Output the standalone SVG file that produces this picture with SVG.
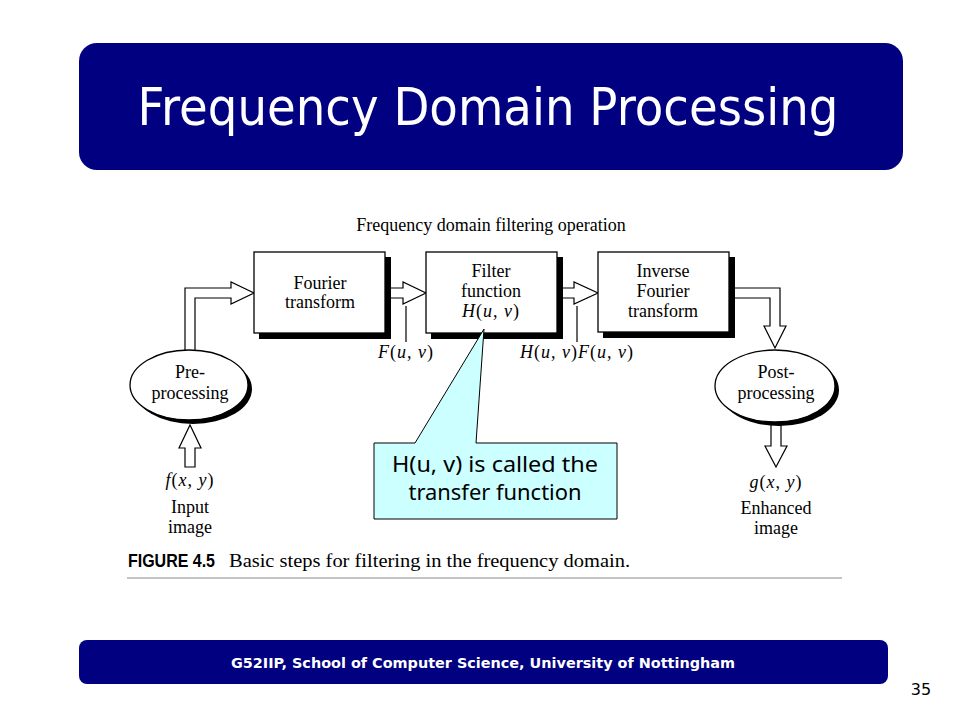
<svg xmlns="http://www.w3.org/2000/svg" width="960" height="720" viewBox="0 0 960 720">
<style>
.serif{font-family:"Liberation Serif","Times New Roman",serif;font-size:18px;fill:#000}
.math{letter-spacing:1px}
.it{font-style:italic}
.box{fill:#fff;stroke:#000;stroke-width:1.3}
.shadow{fill:#000}
.arrow{fill:#fff;stroke:#000;stroke-width:1.2;stroke-linejoin:miter}
.lbl{stroke:#000;stroke-width:1.2}
</style>
<rect width="960" height="720" fill="#fff"/>
<g id="title">
<rect x="79" y="43" width="824" height="127" rx="18" fill="#000080"/>
<text x="488" y="125" text-anchor="middle" font-family="DejaVu Sans, Verdana, sans-serif" font-size="52" fill="#fff" textLength="701" lengthAdjust="spacingAndGlyphs">Frequency Domain Processing</text>
</g>
<text class="serif" x="491" y="231" text-anchor="middle" font-size="17">Frequency domain filtering operation</text>
<g id="connectors">
<path class="arrow" d="M185,360 L185,288 L231,288 L231,282 L254,293 L231,304 L231,298 L195,298 L195,360 Z"/>
<path class="arrow" d="M380,288 L403,288 L403,282 L426,293 L403,304 L403,298 L380,298 Z"/>
<path class="arrow" d="M552,288 L574,288 L574,282 L598,293 L574,304 L574,298 L552,298 Z"/>
<path class="arrow" d="M724,288 L780,288 L780,326 L786,326 L775,348 L764,326 L770,326 L770,298 L724,298 Z"/>
<path class="arrow" d="M185,467 L185,448 L179,448 L190,425 L201,448 L195,448 L195,467 Z"/>
<path class="arrow" d="M771,410 L771,446 L765,446 L776,467 L787,446 L781,446 L781,410 Z"/>
<line class="lbl" x1="406" y1="306" x2="406" y2="342"/>
<line class="lbl" x1="577" y1="306" x2="577" y2="342"/>
</g>
<g id="fourier">
<rect class="shadow" x="259" y="257" width="132" height="82"/>
<rect class="box" x="254" y="252" width="131" height="81"/>
<text class="serif" x="320" y="289" text-anchor="middle">Fourier</text>
<text class="serif" x="320" y="308" text-anchor="middle">transform</text>
</g>
<g id="filter">
<rect class="shadow" x="431" y="257" width="132" height="82"/>
<rect class="box" x="426" y="252" width="131" height="81"/>
<text class="serif" x="491" y="277" text-anchor="middle">Filter</text>
<text class="serif" x="491" y="297" text-anchor="middle">function</text>
<text class="serif math" x="491" y="317" text-anchor="middle"><tspan class="it">H</tspan>(<tspan class="it">u</tspan>, <tspan class="it">v</tspan>)</text>
</g>
<g id="inverse">
<rect class="shadow" x="603" y="257" width="132" height="81"/>
<rect class="box" x="598" y="252" width="131" height="80"/>
<text class="serif" x="663" y="277" text-anchor="middle">Inverse</text>
<text class="serif" x="663" y="297" text-anchor="middle">Fourier</text>
<text class="serif" x="663" y="317" text-anchor="middle">transform</text>
</g>
<g id="preprocessing">
<ellipse class="shadow" cx="193" cy="389" rx="59" ry="35"/>
<ellipse class="box" cx="189" cy="385" rx="59" ry="35"/>
<text class="serif" x="190" y="378" text-anchor="middle">Pre-</text>
<text class="serif" x="190" y="399" text-anchor="middle">processing</text>
</g>
<g id="postprocessing">
<ellipse class="shadow" cx="779" cy="390" rx="60" ry="36"/>
<ellipse class="box" cx="775" cy="386" rx="60" ry="36"/>
<text class="serif" x="776" y="378" text-anchor="middle">Post-</text>
<text class="serif" x="776" y="399" text-anchor="middle">processing</text>
</g>
<g id="labels">
<text class="serif math" x="406" y="358" text-anchor="middle"><tspan class="it">F</tspan>(<tspan class="it">u</tspan>, <tspan class="it">v</tspan>)</text>
<text class="serif math" x="577" y="358" text-anchor="middle"><tspan class="it">H</tspan>(<tspan class="it">u</tspan>, <tspan class="it">v</tspan>)<tspan class="it">F</tspan>(<tspan class="it">u</tspan>, <tspan class="it">v</tspan>)</text>
<text class="serif math" x="190" y="486" text-anchor="middle"><tspan class="it">f</tspan>(<tspan class="it">x</tspan>, <tspan class="it">y</tspan>)</text>
<text class="serif" x="190" y="513" text-anchor="middle">Input</text>
<text class="serif" x="190" y="533" text-anchor="middle">image</text>
<text class="serif math" x="776" y="488" text-anchor="middle"><tspan class="it">g</tspan>(<tspan class="it">x</tspan>, <tspan class="it">y</tspan>)</text>
<text class="serif" x="776" y="514" text-anchor="middle">Enhanced</text>
<text class="serif" x="776" y="534" text-anchor="middle">image</text>
</g>
<g id="callout">
<path d="M374,443 L415,443 L484,329 L476,443 L617,443 L617,519 L374,519 Z" fill="#ccffff" stroke="#000" stroke-width="1"/>
<text x="495" y="472" text-anchor="middle" font-family="Noto Sans, Liberation Sans, sans-serif" font-size="21" fill="#000" textLength="206" lengthAdjust="spacingAndGlyphs">H(u, v) is called the</text>
<text x="495" y="500" text-anchor="middle" font-family="Noto Sans, Liberation Sans, sans-serif" font-size="21" fill="#000" textLength="173" lengthAdjust="spacingAndGlyphs">transfer function</text>
</g>
<g id="caption">
<text x="128" y="567" font-family="Liberation Sans, Arial, sans-serif" font-weight="bold" font-size="18" fill="#000" textLength="87" lengthAdjust="spacingAndGlyphs">FIGURE 4.5</text>
<text class="serif" x="229" y="567" textLength="401" lengthAdjust="spacingAndGlyphs">Basic steps for filtering in the frequency domain.</text>
<line x1="127" y1="578" x2="842" y2="578" stroke="#c4c4c4" stroke-width="2"/>
</g>
<g id="footer">
<rect x="79" y="640" width="809" height="44" rx="8" fill="#000080"/>
<text x="483" y="668" text-anchor="middle" font-family="DejaVu Sans, Verdana, sans-serif" font-weight="bold" font-size="14" fill="#fff" textLength="504" lengthAdjust="spacingAndGlyphs">G52IIP, School of Computer Science, University of Nottingham</text>
<text x="921" y="695" text-anchor="middle" font-family="DejaVu Sans, Verdana, sans-serif" font-size="16" fill="#000">35</text>
</g>
</svg>
